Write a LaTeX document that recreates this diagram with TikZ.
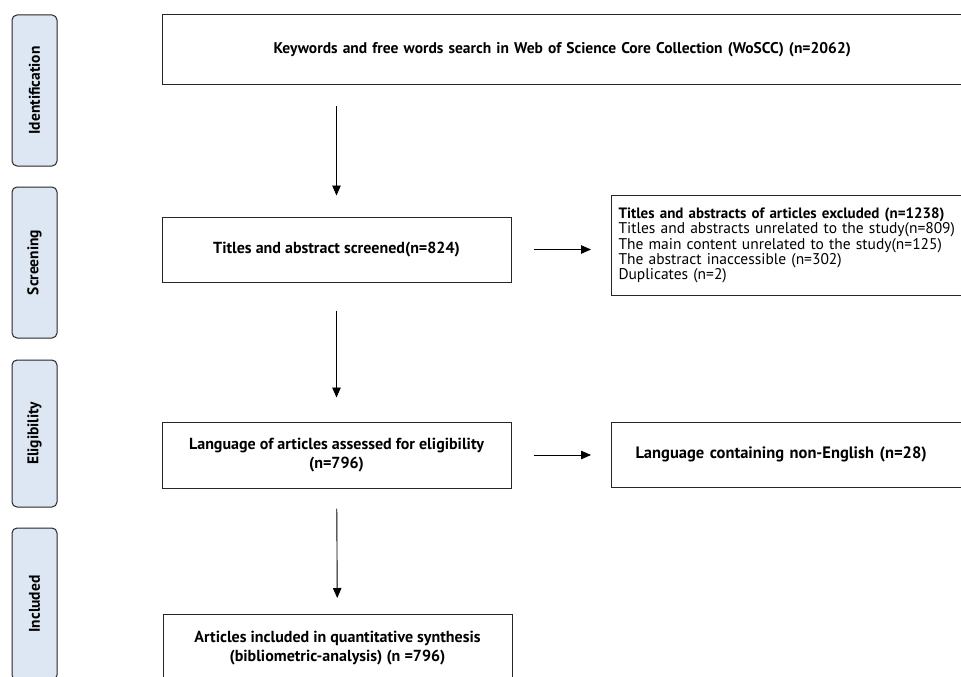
\documentclass[tikz,border=0pt]{standalone}
\usepackage{fontspec}
\setmainfont{PT Sans}
\usetikzlibrary{arrows.meta}
\definecolor{stagefill}{HTML}{DDE7F3}
\tikzset{
  box/.style={draw=black!85,line width=1pt,rectangle,inner sep=0pt,font=\bfseries\fontsize{16}{19.5}\selectfont},
  stage/.style={draw=black!85,line width=1pt,rounded corners=5pt,fill=stagefill,minimum height=45pt,inner sep=0pt,rotate=90,font=\bfseries\fontsize{15.5}{18}\selectfont},
  arr/.style={-{Triangle[length=10pt,width=8.5pt]},line width=0.9pt},
}
\begin{document}
\begin{tikzpicture}[x=1pt,y=-1pt]
    \useasboundingbox (0,0) rectangle (961,677);
    \clip (0,0) rectangle (961,677);
    % phases on the left
    \foreach \name/\txt/\top/\bot in {ident/Identification/15/166,scrphase/Screening/187/338,eligphase/Eligibility/360/507,inclphase/Included/528/680}
        \node[stage,minimum width={\bot-\top}] (\name) at (34.5,{(\top+\bot)/2}) {\txt};
    % flow boxes
    \node[box,anchor=north west,minimum height=70pt,text width=820pt,align=left,inner xsep=111pt,font=\bfseries\fontsize{15.5}{19}\selectfont] (search) at (162,14) {Keywords and free words search in Web of Science Core Collection (WoSCC) (n=2062)};
    \node[box,minimum width=349pt,minimum height=65pt] (scr) at (336.5,249.5) {Titles and abstract screened(n=824)};
    \node[box,anchor=north west,minimum height=100pt,text width=400pt,align=left,inner xsep=7pt,font=\fontsize{15.5}{15.3}\selectfont] (excl) at (611,195) {{\bfseries\fontsize{15}{15.3}\selectfont Titles and abstracts of articles excluded (n=1238)}\\Titles and abstracts unrelated to the study(n=809)\\The main content unrelated to the study(n=125)\\The abstract inaccessible (n=302)\\Duplicates (n=2)};
    \node[box,minimum width=349pt,minimum height=66pt,align=center] (elig) at (336.5,455) {Language of articles assessed for eligibility\\(n=796)};
    \node[box,anchor=west,minimum height=65pt,text width=400pt,align=left,inner xsep=24pt,font=\bfseries\fontsize{16.5}{19.5}\selectfont] (nonen) at (611,454.5) {Language containing non-English (n=28)};
    \node[box,anchor=north,minimum width=349pt,minimum height=67pt,align=center] (incl) at (337.5,614) {Articles included in quantitative synthesis\\(bibliometric-analysis) (n =796)};
    % arrows
    \draw[arr,shorten <=21pt,shorten >=21pt] (scr.north |- search.south) -- (scr.north);
    \draw[arr,shorten <=28pt,shorten >=24pt] (scr) -- (elig);
    \draw[arr,shorten <=20pt,shorten >=16pt] (elig) -- (incl);
    \draw[arr,shorten <=22pt,shorten >=20pt] (scr.east) -- (scr.east -| excl.west);
    \draw[arr,shorten <=22pt,shorten >=20pt] (elig.east) -- (elig.east -| nonen.west);
\end{tikzpicture}
\end{document}
